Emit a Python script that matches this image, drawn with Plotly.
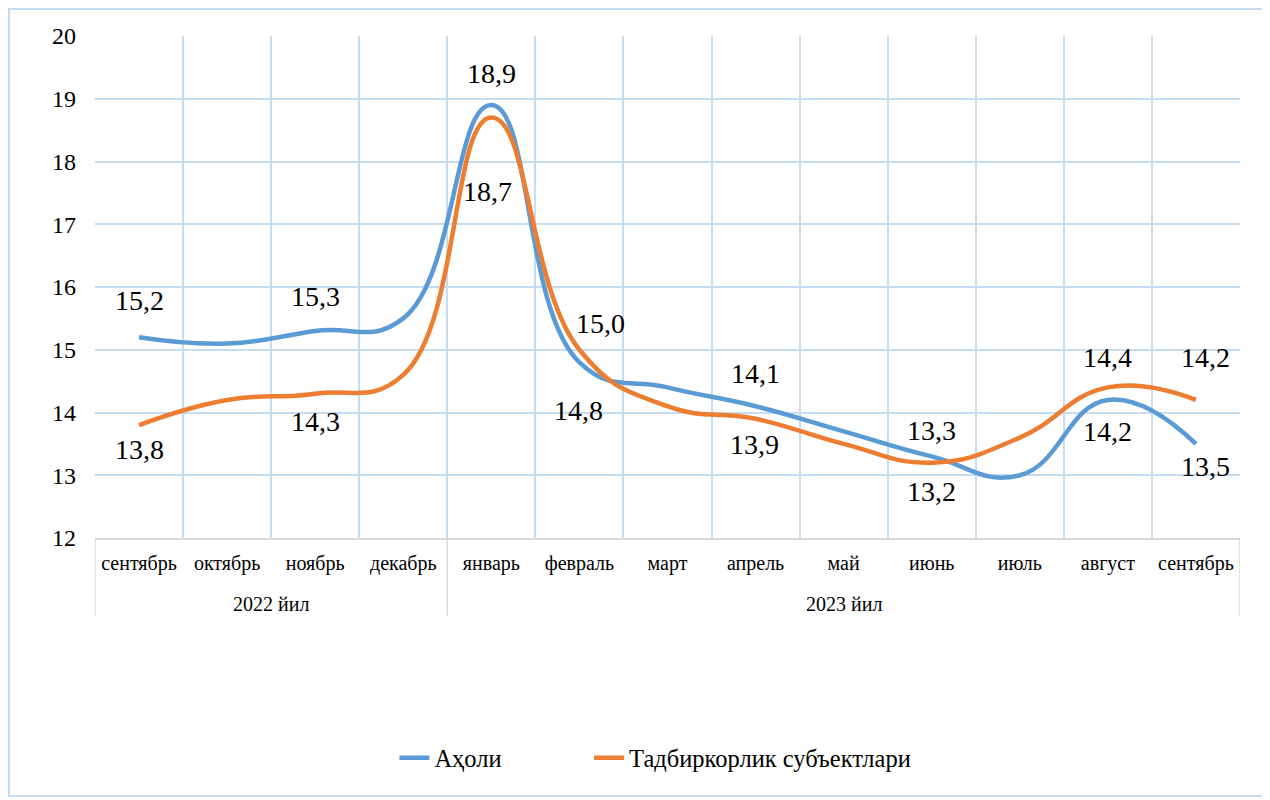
import plotly.graph_objects as go

months = ["сентябрь", "октябрь", "ноябрь", "декабрь", "январь", "февраль", "март",
          "апрель", "май", "июнь", "июль", "август", "сентябрь"]
years = ["2022 йил", "2023 йил"]
year_counts = [4, 9]

aholi = [15.2, 15.1, 15.3, 15.5, 18.9, 14.8, 14.4, 14.1, 13.7, 13.3, 13.0, 14.2, 13.5]
tadbir = [13.8, 14.2, 14.3, 14.6, 18.7, 15.0, 14.1, 13.9, 13.5, 13.2, 13.6, 14.4, 14.2]

series_names = ["Аҳоли", "Тадбиркорлик субъектлари"]
colors = ["#5B9BD5", "#ED7D31"]

# which points carry a value label, and label offsets (px) - styling
aholi_labelled = [0, 2, 4, 5, 7, 9, 11, 12]
aholi_offsets = [(0, 37), (0, 34), (0, 32), (-1, -48), (0, 33), (0, 26), (0, -32), (10, -23)]
tadbir_labelled = [0, 2, 4, 5, 7, 9, 11, 12]
tadbir_offsets = [(0, -24), (0, -28), (-4, -74), (21, 26), (-1, -26), (0, -29), (0, 30), (10, 42)]

x = list(range(len(months)))
FONT = "'Liberation Serif', 'Times New Roman', 'DejaVu Serif', serif"
GRID = "#C6DCF0"

fig = go.Figure()
for k, (name, vals, col) in enumerate(zip(series_names, [aholi, tadbir], colors)):
    fig.add_trace(go.Scatter(
        x=x, y=vals, name=name, mode="lines",
        line=dict(color=col, width=4.5, shape="spline", smoothing=1.3),
        legend="legend" if k == 0 else "legend2",
        hoverinfo="skip"))

annotations = []
for vals, idxs, offs in [(aholi, aholi_labelled, aholi_offsets), (tadbir, tadbir_labelled, tadbir_offsets)]:
    for i, (dx, dy) in zip(idxs, offs):
        annotations.append(dict(
            x=x[i], y=vals[i], xref="x", yref="y",
            text=f"{vals[i]:.1f}".replace(".", ","),
            showarrow=False, xshift=dx, yshift=dy,
            xanchor="center", yanchor="middle",
            font=dict(family=FONT, size=28, color="#000000")))

# year group labels and dividers
shapes = []
start = -0.5
for yr, cnt in zip(years, year_counts):
    center = start + cnt / 2
    annotations.append(dict(
        x=center, y=-0.131, xref="x", yref="paper", text=yr, showarrow=False,
        xanchor="center", yanchor="middle",
        font=dict(family=FONT, size=20, color="#000000")))
    shapes.append(dict(type="line", xref="x", yref="paper", x0=start, x1=start,
                       y0=0, y1=-0.155, line=dict(color="#D9D9D9", width=1.5)))
    start += cnt
shapes.append(dict(type="line", xref="x", yref="paper", x0=start, x1=start,
                   y0=0, y1=-0.155, line=dict(color="#D9D9D9", width=1.5)))

# outer chart border
shapes.append(dict(type="rect", xref="paper", yref="paper",
                   x0=-0.0751, x1=1.0236, y0=-0.514, y1=1.054,
                   line=dict(color=GRID, width=2), fillcolor="rgba(0,0,0,0)"))

legend_style = dict(orientation="h", y=-0.438, yanchor="middle", xanchor="left",
                    font=dict(family=FONT, size=24.5, color="#000000"),
                    bgcolor="rgba(0,0,0,0)")

fig.update_layout(
    width=1262, height=792,
    margin=dict(l=87, r=30, t=28, b=262),
    paper_bgcolor="white", plot_bgcolor="white",
    font=dict(family=FONT, color="#000000"),
    showlegend=True,
    legend=dict(x=0.2615, **legend_style),
    legend2=dict(x=0.4315, **legend_style),
    annotations=annotations,
    shapes=shapes,
)

fig.update_xaxes(
    range=[-0.5, len(months) - 0.5],
    tickmode="array", tickvals=x, ticktext=months,
    tickfont=dict(family=FONT, size=20, color="#000000"),
    showgrid=False, ticks="", ticklabelstandoff=6,
    showline=True, linecolor="#D9D9D9", linewidth=2,
    zeroline=False,
    minor=dict(tick0=-0.5, dtick=1, showgrid=True, gridcolor=GRID, gridwidth=1.5, ticks=""),
)
fig.update_yaxes(
    range=[12, 20], dtick=1, tick0=12,
    tickfont=dict(family=FONT, size=24, color="#000000"),
    showgrid=True, gridcolor=GRID, gridwidth=1.5,
    zeroline=False, showline=False, ticks="", ticklabelstandoff=18,
)

fig.write_html("out.html")
